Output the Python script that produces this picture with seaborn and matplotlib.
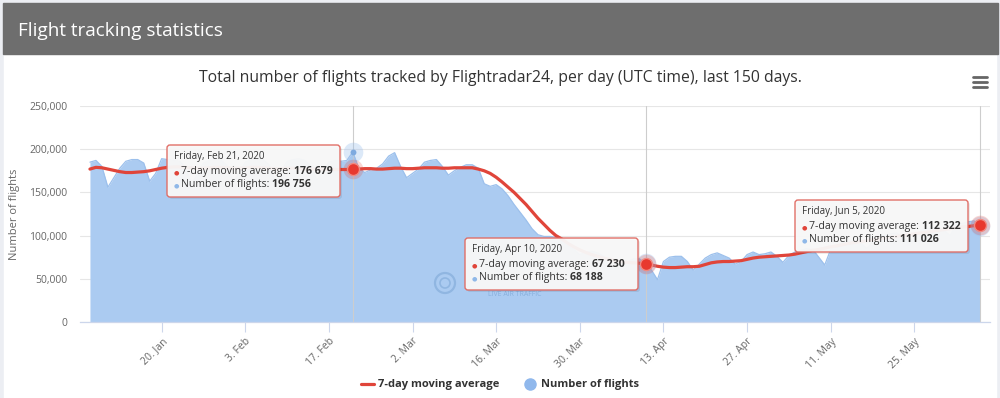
import numpy as np
import pandas as pd
import matplotlib
matplotlib.use("Agg")
import matplotlib.pyplot as plt
from matplotlib.patches import FancyBboxPatch, Rectangle, Circle
from matplotlib.lines import Line2D
from matplotlib.transforms import IdentityTransform
from matplotlib.ticker import FuncFormatter
import seaborn as sns

# flights tracked per day, thousands, 8 Jan -> 5 Jun 2020 (150 days)
flights_k = [
    185, 187, 180, 156, 167, 178, 186, 188, 188, 184,
    163, 172, 189, 188, 187, 186, 179, 160, 171, 184,
    187, 188, 187, 181, 162, 173, 185, 188, 189, 188,
    182, 163, 175, 186, 188, 189, 187, 181, 164, 174,
    185, 187, 186, 187, 196.756, 178, 173, 176, 178, 183,
    192, 196, 180, 167, 172, 177, 185, 187, 188, 180,
    170, 175, 179, 182, 182, 178, 160, 157, 159, 154,
    146, 136, 127, 118, 108, 101, 99, 99, 98, 93,
    88, 84, 78, 81, 82, 80, 76, 62, 62, 70,
    70, 73, 73, 68.188, 60, 49, 70, 75, 76, 76,
    70, 60, 67, 74, 78, 80, 77, 74, 67, 70,
    78, 81, 78, 79, 81, 76, 69, 77, 81, 83,
    85, 84, 75, 66, 84, 89, 91, 93, 94, 92,
    85, 92, 97, 100, 102, 103, 100, 91, 100, 105,
    108, 109, 110, 106, 100, 113, 114, 116, 117, 111.026,
]

# 7-day moving average, thousands
ma7_k = [
    177, 179, 178.5, 177, 175.5, 174, 173, 173, 173.5, 174,
    175, 176.5, 178, 179, 179.5, 179.5, 179, 178.5, 178, 178,
    178.5, 179, 179, 178.5, 178, 178, 178.5, 179, 179, 178.5,
    178, 177.5, 177.5, 178, 178, 177.5, 177, 177, 177, 177,
    176.5, 176.5, 176.5, 176.5, 176.679, 177, 177.5, 177.5, 177, 177,
    177.5, 178, 178, 177.5, 177.5, 178, 178.5, 178.5, 178.5, 178,
    178, 178.5, 178.5, 178.5, 178.5, 177, 175, 172, 167.5, 162,
    156, 150, 143, 136, 128, 120, 113, 106, 100, 96,
    91, 87, 83.5, 80.5, 78, 76, 74, 72.5, 71, 70,
    69, 68.5, 68, 67.23, 66, 64.5, 63.5, 63, 63, 63.5,
    64, 64, 64.5, 66.5, 68.5, 69.5, 70, 70, 70.5, 71,
    72.5, 74, 75, 75.5, 76, 76.5, 77, 77.5, 78.5, 80,
    81.5, 83, 84, 85.5, 87, 88, 89.5, 91, 92, 93,
    94, 95, 96, 97, 98, 99, 100, 101, 102, 103,
    104, 105, 106, 107, 108, 109, 110, 110.5, 111.5, 112.322,
]
assert len(flights_k) == 150 and len(ma7_k) == 150

start_day = "2020-01-08"
tick_days = ["2020-01-20", "2020-02-03", "2020-02-17", "2020-03-02", "2020-03-16",
             "2020-03-30", "2020-04-13", "2020-04-27", "2020-05-11", "2020-05-25"]
hover_days = ["2020-02-21", "2020-04-10", "2020-06-05"]
# tooltip boxes, image px (left, top)
tip_boxes = [(167, 145), (465, 238), (795, 200)]

dates = pd.date_range(start_day, periods=len(flights_k), freq="D")
df = pd.DataFrame({"date": dates,
                   "flights": np.array(flights_k) * 1000,
                   "ma7": np.array(ma7_k) * 1000})

RED = "#e0453a"
BLUE_FILL = "#abcbf1"
BLUE_LINE = "#9cc0ec"
GREY_TXT = "#666666"

sns.set_theme(style="white")
plt.rcParams["font.family"] = ["Open Sans", "DejaVu Sans"]

W, H = 1000, 398
fig = plt.figure(figsize=(W / 100, H / 100), dpi=100, facecolor="white")

def fx(x):
    return x / W

def fy(y):
    return 1 - y / H

# page chrome
fig.patches.append(Rectangle((0, 0), 1, 1, transform=fig.transFigure,
                             color="#eceef3", zorder=-10))
fig.patches.append(Rectangle((fx(4), 0), fx(992), fy(54), transform=fig.transFigure,
                             color="white", zorder=-9))
fig.patches.append(Rectangle((fx(3), fy(54)), fx(995), 51 / H, transform=fig.transFigure,
                             color="#6e6e6e", zorder=-8))
fig.text(fx(18), fy(31), "Flight tracking statistics", color="white",
         fontsize=13.6, va="center", ha="left")
fig.text(0.5, fy(78), "Total number of flights tracked by Flightradar24, per day (UTC time), last 150 days.",
         color="#333333", fontsize=11.3, va="center", ha="center")
for yy in (77, 82, 87):
    fig.lines.append(Line2D([fx(973), fx(987)], [fy(yy), fy(yy)], transform=fig.transFigure,
                            color=GREY_TXT, lw=2))

ax = fig.add_axes([fx(80), fy(322), fx(910), 216 / H], facecolor="none")

ax.fill_between(df["date"], df["flights"], color=BLUE_FILL, lw=0, zorder=2)
sns.lineplot(data=df, x="date", y="flights", color=BLUE_LINE, lw=0.9, ax=ax, zorder=2.1)

hov = df[df["date"].isin(pd.to_datetime(hover_days))]
for d in hov["date"]:
    ax.axvline(d, color="#cdcdcd", lw=0.8, zorder=2.5)

sns.lineplot(data=df, x="date", y="ma7", color=RED, lw=2.3, ax=ax, zorder=3)

ax.scatter(hov["date"], hov["flights"], s=200, color="#9cc0ec", alpha=0.35, lw=0, zorder=3.2)
ax.scatter(hov["date"], hov["flights"], s=18, color="#7eaadf", lw=0, zorder=3.3)
ax.scatter(hov["date"], hov["ma7"], s=200, color=RED, alpha=0.22, lw=0, zorder=3.4)
sns.scatterplot(data=hov, x="date", y="ma7", s=75, color="#e8392f", edgecolor="#f08a82",
                linewidth=1, ax=ax, zorder=3.5)

ax.set_ylim(0, 250000)
ax.set_xlim(dates[0] - pd.Timedelta(hours=40), dates[-1] + pd.Timedelta(hours=40))
ax.set_yticks(range(0, 250001, 50000))
ax.yaxis.set_major_formatter(FuncFormatter(lambda v, p: f"{int(v):,}"))
ax.yaxis.grid(True, color="#e6e6e6", lw=0.8)
ax.set_axisbelow(True)

ticks = pd.to_datetime(tick_days)
ax.set_xticks(ticks)
ax.set_xticklabels([f"{t.day}. {t.strftime('%b')}" for t in ticks])
plt.setp(ax.get_xticklabels(), rotation=45, ha="right", rotation_mode="anchor")
ax.tick_params(axis="x", length=7, width=0.8, color="#ccd6eb", labelsize=7.5,
               labelcolor=GREY_TXT, pad=3, bottom=True)
ax.tick_params(axis="y", length=0, labelsize=7.5, labelcolor=GREY_TXT, pad=9)

for s in ("top", "right", "left"):
    ax.spines[s].set_visible(False)
ax.spines["bottom"].set_color("#ccd6eb")
ax.spines["bottom"].set_linewidth(0.9)

ax.set_xlabel("")
ax.set_ylabel("Number of flights", fontsize=8, color=GREY_TXT)
ax.yaxis.set_label_coords(-60 / 910, 0.5)

# faint watermark
fig.patches.append(Circle((445, H - 283), 10, transform=IdentityTransform(), fill=False,
                          ec="#5f8fc4", lw=1.6, alpha=0.35, zorder=1))
fig.patches.append(Circle((445, H - 283), 5, transform=IdentityTransform(), fill=False,
                          ec="#5f8fc4", lw=1.2, alpha=0.35, zorder=1))
fig.text(fx(488), fy(295), "LIVE AIR TRAFFIC", fontsize=5, color="#5f8fc4", alpha=0.45,
         va="center", zorder=1)

# tooltips
renderer = fig.canvas.get_renderer()
for (bx, by), (_, row) in zip(tip_boxes, hov.iterrows()):
    bw, bh = 173, 52
    fig.patches.append(FancyBboxPatch((bx + 2, H - by - bh - 2), bw, bh,
                                      boxstyle="round,pad=0,rounding_size=3",
                                      transform=IdentityTransform(), fc="black", alpha=0.08,
                                      lw=0, zorder=5))
    fig.patches.append(FancyBboxPatch((bx, H - by - bh), bw, bh,
                                      boxstyle="round,pad=0,rounding_size=3",
                                      transform=IdentityTransform(), fc="#f8f8f8", alpha=0.96,
                                      ec="#e06a62", lw=1, zorder=6))
    d = row["date"]
    fig.text(bx + 7, H - by - 14, f"{d.strftime('%A, %b')} {d.day}, {d.year}",
             transform=IdentityTransform(), fontsize=7, color="#333333", zorder=7)
    lines = [(RED, "7-day moving average: ", row["ma7"]),
             ("#8fb8e8", "Number of flights: ", row["flights"])]
    for k, (bc, lab, val) in enumerate(lines):
        x = bx + 7
        y = H - by - 29 - 13 * k
        parts = [("\u25cf ", bc, "normal", 4.5), (lab, "#333333", "normal", 7.6),
                 (f"{int(round(val)):,}".replace(",", " "), "#333333", "bold", 7.6)]
        for s, c, w, fs in parts:
            t = fig.text(x, y, s, transform=IdentityTransform(), fontsize=fs, color=c,
                         fontweight=w, zorder=7)
            x = t.get_window_extent(renderer).x1

handles = [Line2D([], [], color=RED, lw=2.3),
           Line2D([], [], color="#90b8ec", marker="o", ls="none", markersize=8)]
fig.legend(handles, ["7-day moving average", "Number of flights"], loc="center",
           bbox_to_anchor=(0.5, fy(385)), ncol=2, frameon=False, handlelength=1.1,
           columnspacing=2.2, handletextpad=0.4,
           prop={"size": 8, "weight": "bold"}, labelcolor="#333333")

fig.savefig("out.png", dpi=100, facecolor=fig.get_facecolor())
